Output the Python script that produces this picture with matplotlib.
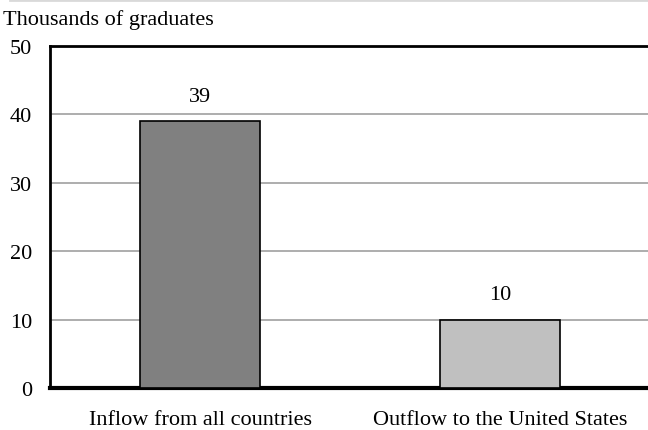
import matplotlib.pyplot as plt
from matplotlib.lines import Line2D

categories = ["Inflow from all countries", "Outflow to the United States"]
values = [39, 10]
colors = ["#808080", "#c0c0c0"]
yticks = [0, 10, 20, 30, 40, 50]

plt.rcParams['font.family'] = ['Liberation Serif', 'DejaVu Serif']

fig = plt.figure(figsize=(6.48, 4.31), dpi=100)
ax = fig.add_axes([50 / 648, 42 / 431, 598 / 648, 342 / 431])

x = range(len(categories))
ax.bar(x, values, width=0.4, color=colors, edgecolor="black", linewidth=1.2, zorder=3)
for xi, v in zip(x, values):
    ax.annotate(str(v), (xi, v), xytext=(0, 11), textcoords="offset points",
                ha="center", va="bottom", fontsize=16)

ax.set_xlim(-0.5, 1.493)
ax.set_ylim(0, 50)
ax.set_yticks(yticks)
ax.set_xticks(list(x))
ax.set_xticklabels(categories)
ax.tick_params(axis="both", length=0, labelsize=16)
ax.tick_params(axis="y", pad=13)
ax.tick_params(axis="x", pad=16)
ax.yaxis.grid(True, color="#a0a0a0", linewidth=1.2, zorder=0)
ax.set_axisbelow(True)

ax.spines["right"].set_visible(False)
ax.spines["top"].set_linewidth(2)
ax.spines["left"].set_linewidth(2)
ax.spines["bottom"].set_linewidth(3)

fig.text(3 / 648, 1 - 20 / 431, "Thousands of graduates", fontsize=16, va="center", ha="left")
fig.add_artist(Line2D([10 / 648, 1], [1 - 1 / 431] * 2, color="#d9d9d9", linewidth=2,
                      transform=fig.transFigure))

fig.savefig("out.png", dpi=100)
